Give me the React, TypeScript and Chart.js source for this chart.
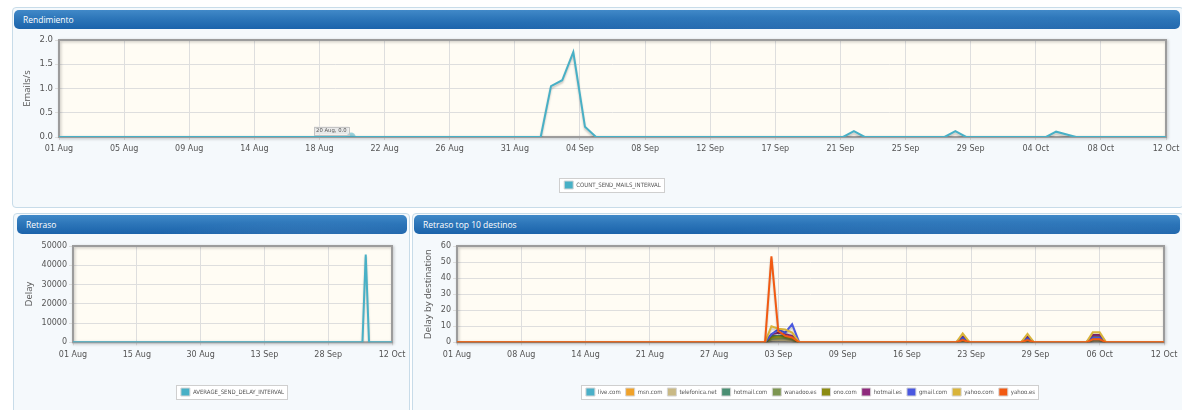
import React, { useEffect, useRef } from "react";
import { Chart, registerables } from "chart.js";
Chart.register(...registerables);

// ---------------- Data (x = days since 01 Aug) ----------------
const DAY_SPAN = 72; // 01 Aug -> 12 Oct

const rendimientoTicks = ["01 Aug", "05 Aug", "09 Aug", "14 Aug", "18 Aug", "22 Aug", "26 Aug", "31 Aug", "04 Sep", "08 Sep", "12 Sep", "17 Sep", "21 Sep", "25 Sep", "29 Sep", "04 Oct", "08 Oct", "12 Oct"];
const rendimientoDays = [0, 19, 31.33, 32.0, 32.73, 33.45, 34.21, 34.93, 51.0, 51.7, 52.4, 57.6, 58.3, 59.0, 64.2, 64.85, 66.15, 72];
const countSendMails = [0, 0, 0, 1.05, 1.17, 1.75, 0.21, 0, 0, 0.12, 0, 0, 0.12, 0, 0, 0.11, 0, 0];
const rendimientoHoverIndex = 1;
const rendimientoHoverText = "20 Aug, 0.0";

const retrasoTicks = ["01 Aug", "15 Aug", "30 Aug", "13 Sep", "28 Sep", "12 Oct"];
const retrasoDays = [0, 65.33, 66.07, 66.82, 72];
const averageSendDelay = [0, 0, 45600, 0, 0];

const destinosTicks = ["01 Aug", "08 Aug", "14 Aug", "21 Aug", "27 Aug", "03 Sep", "09 Sep", "16 Sep", "23 Sep", "29 Sep", "06 Oct", "12 Oct"];
const destinosDays = [0, 31.37, 32.02, 32.72, 33.42, 34.13, 34.85, 50.85, 51.5, 52.2, 57.45, 58.1, 58.75, 64.1, 64.75, 65.45, 66.1, 72];
const liveCom = [0, 0, 3, 3, 3, 2, 0, 0, 1, 0, 0, 1, 0, 0, 2, 2, 0, 0];
const msnCom = [0, 0, 2, 2, 2, 1.5, 0, 0, 1, 0, 0, 1, 0, 0, 1.5, 1.5, 0, 0];
const telefonicaNet = [0, 0, 1.5, 1.5, 1.5, 1, 0, 0, 0.5, 0, 0, 0.5, 0, 0, 1, 1, 0, 0];
const hotmailCom = [0, 0, 4, 4, 4, 3, 0, 0, 1.5, 0, 0, 1.5, 0, 0, 2.5, 2.5, 0, 0];
const wanadooEs = [0, 0, 2, 2.5, 2.5, 2, 0, 0, 1, 0, 0, 1, 0, 0, 2, 2, 0, 0];
const onoCom = [0, 0, 3, 3.5, 3.5, 2.5, 0, 0, 2, 0, 0, 2, 0, 0, 3.5, 3.5, 0, 0];
const hotmailEs = [0, 0, 5, 6, 5, 4, 0, 0, 3.5, 0, 0, 3.5, 0, 0, 4.5, 4.5, 0, 0];
const gmailCom = [0, 0, 5, 8, 6, 11.3, 0, 0, 2.9, 0, 0, 2.5, 0, 0, 3, 3, 0, 0];
const yahooCom = [0, 0, 10, 8.5, 8, 6, 0, 0, 5.6, 0, 0, 5.2, 0, 0, 6.2, 6.2, 0, 0];
const yahooEs = [0, 0, 53.5, 7, 4, 3, 0, 0, 1.4, 0, 0, 1.4, 0, 0, 1.9, 1.9, 0, 0];

const destinosNames = ["live.com", "msn.com", "telefonica.net", "hotmail.com", "wanadoo.es", "ono.com", "hotmail.es", "gmail.com", "yahoo.com", "yahoo.es"];
const destinosColors = ["#4bb0c8", "#f0a22a", "#c9b985", "#4b8f73", "#7d9651", "#8c8b12", "#8e2a7c", "#4a58e0", "#d9b43a", "#f25a12"];
const destinosValues = [liveCom, msnCom, telefonicaNet, hotmailCom, wanadooEs, onoCom, hotmailEs, gmailCom, yahooCom, yahooEs];

// ---------------- Styling ----------------
const PLOT_BG = "#fffcf4";
const GRID = "#dedede";
const TEXT = "#545454";
const TICK_FONT = "'DejaVu Sans', Verdana, sans-serif";
const TITLE_FONT = "'Open Sans', 'Liberation Sans', sans-serif";
const LEGEND_FONT = "'DejaVu Sans Condensed', 'Liberation Sans Narrow', 'DejaVu Sans', sans-serif";

type Series = { label: string; color: string; values: number[] };
type Spec = {
  days: number[];
  series: Series[];
  ticks: string[];
  yMax: number;
  yStep: number;
  yDecimals: number;
  yTitle: string;
  yFontSize: number;
  yAxisWidth: number;
  titlePad: number;
  padTop: number;
  padRight: number;
  xAxisHeight: number;
  hover?: { index: number; text: string };
};

function buildConfig(spec: Spec): any {
  const n = spec.series.length;
  const framePlugin = {
    id: "frame",
    beforeDraw(chart: any) {
      const { ctx, chartArea: a } = chart;
      ctx.save();
      ctx.fillStyle = PLOT_BG;
      ctx.fillRect(a.left, a.top, a.right - a.left, a.bottom - a.top);
      const hb = chart.legend && chart.legend.legendHitBoxes;
      if (hb && hb.length) {
        let l = Infinity, r = -Infinity, t = Infinity, b = -Infinity;
        hb.forEach((h: any) => {
          l = Math.min(l, h.left);
          r = Math.max(r, h.left + h.width);
          t = Math.min(t, h.top);
          b = Math.max(b, h.top + h.height);
        });
        const x0 = Math.round(l - 5) + 0.5, y0 = Math.round(t - 3) + 0.5;
        const w = Math.round(r - l + 8), h = Math.round(b - t + 6);
        ctx.fillStyle = "#ffffff";
        ctx.fillRect(x0, y0, w, h);
        ctx.strokeStyle = "#cfcfcf";
        ctx.lineWidth = 1;
        ctx.strokeRect(x0, y0, w, h);
      }
      ctx.restore();
    },
    beforeDatasetsDraw(chart: any) {
      const { ctx, chartArea: a } = chart;
      ctx.save();
      ctx.shadowColor = "rgba(0,0,0,0.25)";
      ctx.shadowBlur = 3;
      ctx.shadowOffsetX = 1;
      ctx.shadowOffsetY = 1;
      ctx.strokeStyle = "#9c9c9c";
      ctx.lineWidth = 2;
      ctx.strokeRect(a.left, a.top, a.right - a.left, a.bottom - a.top);
      ctx.restore();
      ctx.save();
      ctx.shadowColor = "rgba(0,0,0,0.22)";
      ctx.shadowBlur = 2;
      ctx.shadowOffsetX = 0;
      ctx.shadowOffsetY = 2;
    },
    afterDatasetsDraw(chart: any) {
      const ctx = chart.ctx;
      ctx.restore();
      if (spec.hover) {
        const pt = chart.getDatasetMeta(0).data[spec.hover.index];
        if (pt) {
          ctx.save();
          ctx.font = "5.3px " + TICK_FONT;
          const tw = ctx.measureText(spec.hover.text).width;
          const w = tw + 4, h = 8;
          const x = pt.x - 2.5 - w, y = pt.y - 2.5 - h;
          ctx.fillStyle = "rgba(232,232,232,0.95)";
          ctx.fillRect(x, y, w, h);
          ctx.strokeStyle = "#c4c4c4";
          ctx.lineWidth = 1;
          ctx.strokeRect(Math.round(x) + 0.5, Math.round(y) + 0.5, Math.round(w), Math.round(h));
          ctx.fillStyle = "#555555";
          ctx.textBaseline = "middle";
          ctx.fillText(spec.hover.text, x + 2, y + h / 2 + 0.5);
          ctx.restore();
        }
      }
    },
  };

  const datasets = spec.series.map((s, i) => ({
    label: s.label,
    data: spec.days.map((d, k) => ({ x: d, y: s.values[k] })),
    borderColor: s.color,
    backgroundColor: s.color,
    borderWidth: 2,
    tension: 0,
    fill: false,
    order: n - 1 - i,
    pointRadius: spec.hover && i === 0 ? (c: any) => (c.dataIndex === spec.hover!.index ? 4.5 : 0) : 0,
    pointHoverRadius: 0,
    pointBackgroundColor: "rgba(75,176,200,0.55)",
    pointBorderWidth: 0,
  }));

  const tickCount = spec.ticks.length;
  return {
    type: "line",
    data: { datasets },
    plugins: [framePlugin],
    options: {
      responsive: false,
      animation: false,
      devicePixelRatio: 1,
      events: [],
      layout: { padding: { top: spec.padTop, right: spec.padRight, left: 0, bottom: 0 } },
      plugins: {
        tooltip: { enabled: false },
        legend: {
          display: true,
          position: "bottom",
          fullSize: false,
          reverse: true,
          labels: {
            boxWidth: 9,
            boxHeight: 8,
            padding: 5,
            color: TEXT,
            font: { size: 6, family: LEGEND_FONT },
            generateLabels: (chart: any) =>
              (Chart.defaults.plugins.legend.labels as any).generateLabels(chart).map((it: any) => ({
                ...it,
                lineWidth: 1,
                strokeStyle: "#d6d6d6",
              })),
          },
        },
      },
      scales: {
        x: {
          type: "linear",
          min: 0,
          max: DAY_SPAN,
          afterBuildTicks: (axis: any) => {
            axis.ticks = spec.ticks.map((_, i) => ({ value: (i * DAY_SPAN) / (tickCount - 1) }));
          },
          afterFit: (axis: any) => {
            axis.height = spec.xAxisHeight;
            axis.paddingLeft = 0;
            axis.paddingRight = 0;
          },
          ticks: {
            autoSkip: false,
            maxRotation: 0,
            minRotation: 0,
            padding: 4.5,
            color: TEXT,
            font: { size: 8, family: TICK_FONT },
            callback: (_v: any, i: number) => spec.ticks[i],
          },
          grid: { color: GRID, lineWidth: 1, tickLength: 3 },
          border: { display: false },
        },
        y: {
          type: "linear",
          min: 0,
          max: spec.yMax,
          afterFit: (axis: any) => {
            axis.width = spec.yAxisWidth;
          },
          ticks: {
            stepSize: spec.yStep,
            padding: 2,
            color: TEXT,
            font: { size: spec.yFontSize, family: TICK_FONT },
            callback: (v: any) => Number(v).toFixed(spec.yDecimals),
          },
          grid: { color: GRID, lineWidth: 1, tickLength: 4 },
          border: { display: false },
          title: {
            display: true,
            text: spec.yTitle,
            color: TEXT,
            font: { size: 9.5, family: TITLE_FONT },
            padding: { top: spec.titlePad, bottom: 0 },
          },
        },
      },
    },
  };
}

function ChartCanvas(props: { spec: Spec; left: number; top: number; width: number; height: number }) {
  const ref = useRef<HTMLCanvasElement | null>(null);
  useEffect(() => {
    if (!ref.current) return;
    const chart = new Chart(ref.current, buildConfig(props.spec));
    return () => chart.destroy();
  }, []);
  return (
    <canvas
      ref={ref}
      width={props.width}
      height={props.height}
      style={{ position: "absolute", left: props.left, top: props.top, width: props.width, height: props.height }}
    />
  );
}

function Panel(props: { left: number; top: number; width: number; height: number }) {
  return (
    <div
      style={{
        position: "absolute",
        left: props.left,
        top: props.top,
        width: props.width,
        height: props.height,
        boxSizing: "border-box",
        border: "1px solid #c8dce9",
        borderRadius: 4,
        background: "#f5f9fc",
      }}
    />
  );
}

function Header(props: { left: number; top: number; width: number; title: string }) {
  return (
    <div
      style={{
        position: "absolute",
        left: props.left,
        top: props.top,
        width: props.width,
        height: 19,
        borderRadius: 5,
        background:
          "radial-gradient(ellipse 60% 140% at 75% 130%, rgba(255,255,255,0.10), rgba(255,255,255,0) 70%), linear-gradient(to bottom, #4189c8 0%, #2d76b9 45%, #1b63ab 100%)",
        color: "#ffffff",
        fontFamily: TITLE_FONT,
        fontSize: 8.5,
        lineHeight: "19px",
        paddingLeft: 9,
        boxSizing: "border-box",
        whiteSpace: "nowrap",
      }}
    >
      {props.title}
    </div>
  );
}

const rendimientoSpec: Spec = {
  days: rendimientoDays,
  series: [{ label: "COUNT_SEND_MAILS_INTERVAL", color: "#48b0c6", values: countSendMails }],
  ticks: rendimientoTicks,
  yMax: 2,
  yStep: 0.5,
  yDecimals: 1,
  yTitle: "Emails/s",
  yFontSize: 8.5,
  yAxisWidth: 45,
  titlePad: 7.5,
  padTop: 10,
  padRight: 14,
  xAxisHeight: 39,
  hover: { index: rendimientoHoverIndex, text: rendimientoHoverText },
};

const retrasoSpec: Spec = {
  days: retrasoDays,
  series: [{ label: "AVERAGE_SEND_DELAY_INTERVAL", color: "#48b0c6", values: averageSendDelay }],
  ticks: retrasoTicks,
  yMax: 50000,
  yStep: 10000,
  yDecimals: 0,
  yTitle: "Delay",
  yFontSize: 8,
  yAxisWidth: 56,
  titlePad: 7,
  padTop: 12,
  padRight: 14,
  xAxisHeight: 40.7,
};

const destinosSpec: Spec = {
  days: destinosDays,
  series: destinosNames.map((name, i) => ({ label: name, color: destinosColors[i], values: destinosValues[i] })),
  ticks: destinosTicks,
  yMax: 60,
  yStep: 10,
  yDecimals: 0,
  yTitle: "Delay by destination",
  yFontSize: 8,
  yAxisWidth: 42,
  titlePad: 7.4,
  padTop: 12,
  padRight: 15,
  xAxisHeight: 40.7,
};

export default function App() {
  return (
    <div style={{ position: "absolute", left: 0, top: 0, width: 1182, height: 410, overflow: "hidden", background: "#ffffff" }}>
      <Panel left={12} top={7} width={1172} height={201} />
      <Header left={14} top={10} width={1166} title="Rendimiento" />
      <ChartCanvas spec={rendimientoSpec} left={14} top={30} width={1166} height={169} />

      <Panel left={13} top={213} width={397} height={210} />
      <Header left={17} top={215} width={390} title="Retraso" />
      <ChartCanvas spec={retrasoSpec} left={17} top={234} width={389} height={172} />

      <Panel left={412} top={213} width={772} height={210} />
      <Header left={414} top={215} width={766} title="Retraso top 10 destinos" />
      <ChartCanvas spec={destinosSpec} left={415} top={234} width={764} height={172} />
    </div>
  );
}
